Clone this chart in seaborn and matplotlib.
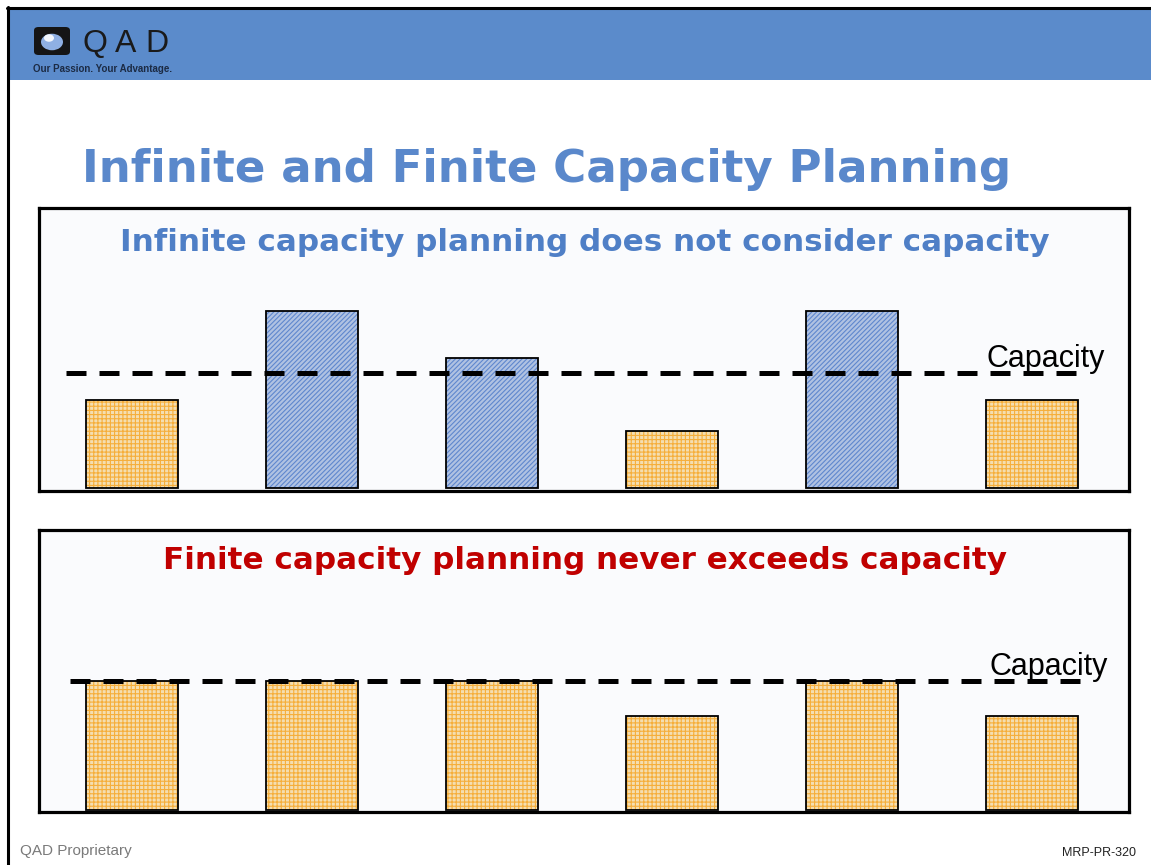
#!/usr/bin/env python3
"""Infinite vs finite capacity planning slide (QAD MRP-PR-320)."""

import matplotlib.pyplot as plt
import pandas as pd
import seaborn as sns
from matplotlib.patches import Circle, FancyBboxPatch, Rectangle
from matplotlib.lines import Line2D

# ---- data -------------------------------------------------------------
PERIODS = ["P1", "P2", "P3", "P4", "P5", "P6"]
INFINITE_LOAD = [77, 154, 113, 50, 154, 77]
FINITE_LOAD = [100, 100, 100, 73, 100, 73]
CAPACITY = 100

TITLE = "Infinite and Finite Capacity Planning"
SUB_INFINITE = "Infinite capacity planning does not consider capacity"
SUB_FINITE = "Finite capacity planning never exceeds capacity"

# ---- style ------------------------------------------------------------
W, H = 1151, 865
HEADER_BLUE = "#5B8BCB"
TITLE_BLUE = "#5A88CB"
SUB_BLUE = "#4F7FC6"
SUB_RED = "#C00000"
ORANGE_FILL, ORANGE_HATCH = "#FFE2A6", "#F6AE3A"
BLUE_FILL, BLUE_HATCH = "#A8C0EA", "#5F87CE"
PANEL_BG = "#FAFBFD"

sns.set_theme(style="white")
plt.rcParams["font.family"] = ["DejaVu Sans"]
plt.rcParams["hatch.linewidth"] = 0.8


def fx(x):
    return x / W


def fy(y):
    return 1 - y / H


def px_axes(fig, x0, y0, x1, y1):
    return fig.add_axes([fx(x0), fy(y1), (x1 - x0) / W, (y1 - y0) / H])


def load_panel(fig, box, load, ylim, line_span, label_pos, subtitle, sub_color, sub_base):
    x0, y0, x1, y1 = box
    ax = px_axes(fig, x0, y0, x1, y1)
    df = pd.DataFrame({"period": PERIODS, "load": load})
    df["status"] = ["over" if v > CAPACITY else "under" for v in load]
    hue_order = ["under", "over"]

    sns.barplot(
        data=df, x="period", y="load", hue="status", hue_order=hue_order,
        palette={"under": ORANGE_FILL, "over": BLUE_FILL},
        dodge=False, width=0.512, errorbar=None, legend=False, ax=ax,
    )
    for container, level in zip(ax.containers, hue_order):
        for bar in container:
            if level == "over":
                bar.set_hatch("///////")
                bar.set_edgecolor(BLUE_HATCH)
            else:
                bar.set_hatch("++++")
                bar.set_edgecolor(ORANGE_HATCH)
            bar.set_linewidth(0)
    sns.barplot(
        data=df, x="period", y="load", fill=False, color="black",
        width=0.512, errorbar=None, linewidth=1.3, ax=ax,
    )

    ax.axhline(CAPACITY, xmin=line_span[0], xmax=line_span[1], color="black",
               lw=3.6, dashes=(4, 2.6), zorder=5)
    ax.text(label_pos[0], label_pos[1], "Capacity", transform=ax.transAxes,
            fontsize=22, family="Liberation Sans", color="black", va="baseline")

    ax.set_xlim(-0.517, 5.539)
    ax.set_ylim(*ylim)
    ax.set_facecolor(PANEL_BG)
    ax.set_xticks([])
    ax.set_yticks([])
    ax.set_xlabel("")
    ax.set_ylabel("")
    for sp in ax.spines.values():
        sp.set_visible(True)
        sp.set_color("black")
        sp.set_linewidth(2.3)

    fig.text(fx((x0 + x1) / 2 + 0.5), fy(sub_base), subtitle, ha="center", va="baseline",
             fontsize=22.3, fontweight="bold", color=sub_color)
    return ax


fig = plt.figure(figsize=(W / 100, H / 100), dpi=100)
fig.patch.set_facecolor("white")

# slide frame + header band
fig.add_artist(Rectangle((fx(9), fy(80)), fx(W) - fx(9), fy(9) - fy(80),
                         transform=fig.transFigure, facecolor=HEADER_BLUE, edgecolor="none"))
fig.add_artist(Line2D([fx(7), 1], [fy(8), fy(8)], color="black", lw=2.2))
fig.add_artist(Line2D([fx(8), fx(8)], [0, fy(7)], color="black", lw=2.2))

# logo
fig.add_artist(FancyBboxPatch((fx(34), fy(55)), fx(36), 28 / H,
                              boxstyle="round,pad=0,rounding_size=0.004",
                              transform=fig.transFigure, facecolor="#151515", edgecolor="none"))
fig.add_artist(Circle((fx(52), fy(42)), 11 / W, transform=fig.transFigure,
                      facecolor="#8FB0E4", edgecolor="none"))
fig.add_artist(Circle((fx(49), fy(38)), 5 / W, transform=fig.transFigure,
                      facecolor="#F2F6FD", edgecolor="none"))
for letter, cx in zip("QAD", [95, 126, 157]):
    fig.text(fx(cx), fy(52), letter, ha="center", va="baseline", fontsize=23,
             family="Liberation Sans", color="#1A1A1A")
fig.text(fx(33), fy(71.5), "Our Passion. Your Advantage.", ha="left", va="baseline",
         fontsize=7, fontweight="bold", family="Liberation Sans", color="#1C2B44")

# title
fig.text(fx(82), fy(182), TITLE, ha="left", va="baseline", fontsize=32.5,
         fontweight="bold", color=TITLE_BLUE)

# panels
load_panel(fig, (39, 208, 1129, 491), INFINITE_LOAD, (-2.6, 244.1),
           (0.025, 0.96), (0.869, (491 - 367) / 283), SUB_INFINITE, SUB_BLUE, 251)
load_panel(fig, (39, 530, 1129, 812), FINITE_LOAD, (-1.55, 216.5),
           (0.028, 0.964), (0.872, (812 - 675) / 282), SUB_FINITE, SUB_RED, 569)

# footer
fig.text(fx(20), fy(855), "QAD Proprietary", ha="left", va="baseline", fontsize=11,
         family="Liberation Sans", color="#7A7A7A")
fig.text(fx(1136), fy(856), "MRP-PR-320", ha="right", va="baseline", fontsize=9,
         family="Liberation Sans", color="#222222")

fig.savefig("out.png", dpi=100)
